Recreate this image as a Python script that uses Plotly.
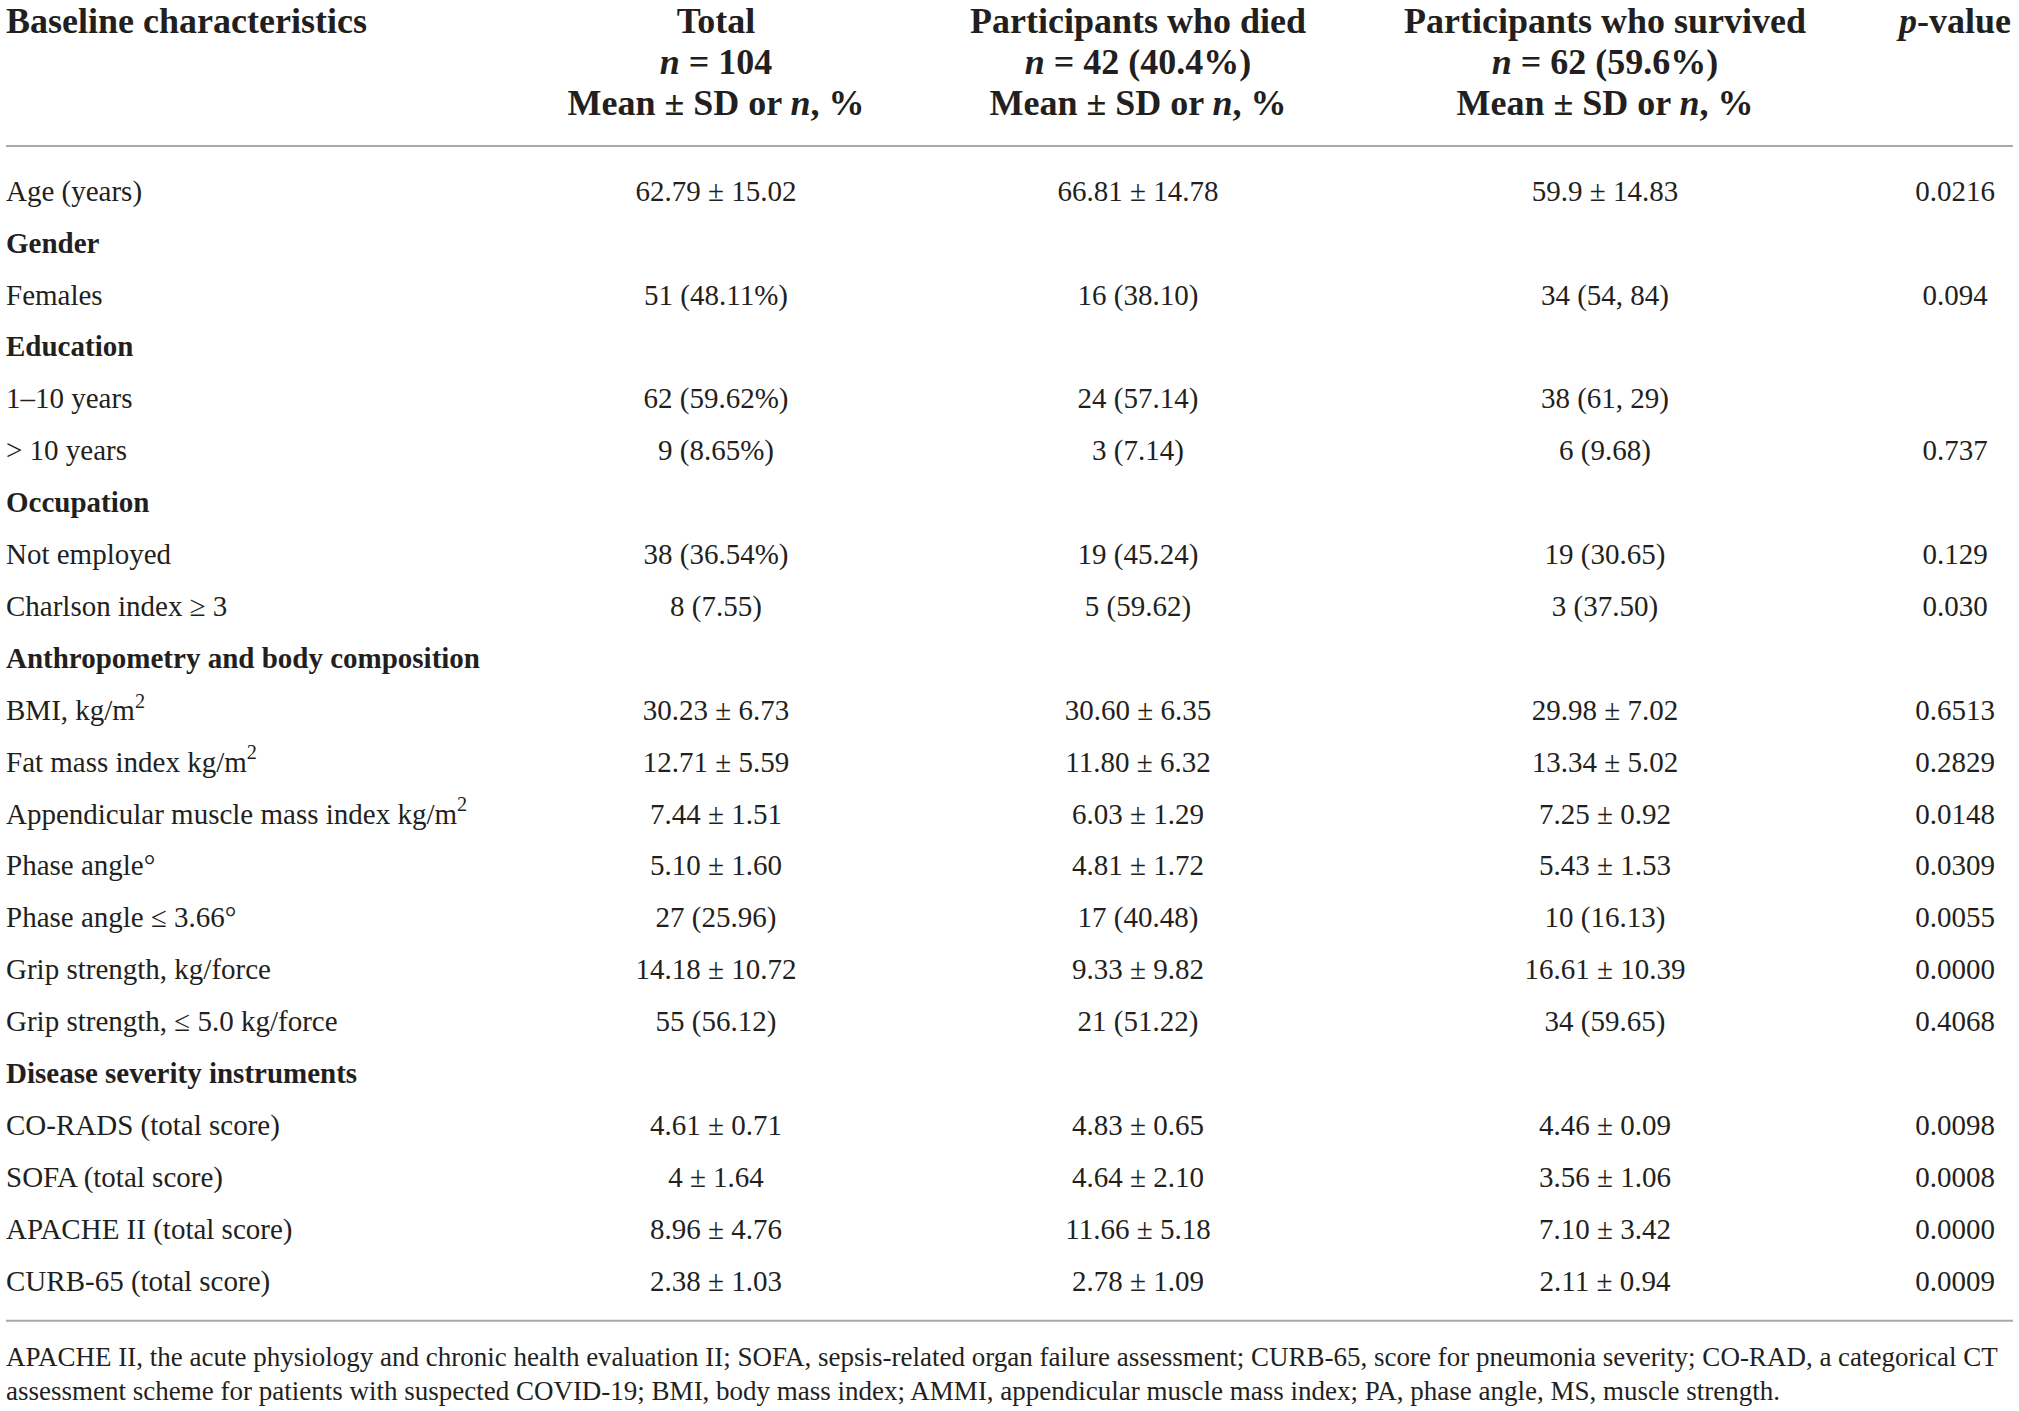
import plotly.graph_objects as go

# Table contents
labels = [
    "Age (years)", "Gender", "Females", "Education", "1–10 years", "&gt; 10 years",
    "Occupation", "Not employed", "Charlson index ≥ 3",
    "Anthropometry and body composition", "BMI, kg/m<sup>2</sup>",
    "Fat mass index kg/m<sup>2</sup>", "Appendicular muscle mass index kg/m<sup>2</sup>",
    "Phase angle°", "Phase angle ≤ 3.66°", "Grip strength, kg/force",
    "Grip strength, ≤ 5.0 kg/force", "Disease severity instruments",
    "CO-RADS (total score)", "SOFA (total score)", "APACHE II (total score)",
    "CURB-65 (total score)",
]
section_rows = ["Gender", "Education", "Occupation",
                "Anthropometry and body composition", "Disease severity instruments"]

total = ["62.79 ± 15.02", "", "51 (48.11%)", "", "62 (59.62%)", "9 (8.65%)", "",
         "38 (36.54%)", "8 (7.55)", "", "30.23 ± 6.73", "12.71 ± 5.59", "7.44 ± 1.51",
         "5.10 ± 1.60", "27 (25.96)", "14.18 ± 10.72", "55 (56.12)", "", "4.61 ± 0.71",
         "4 ± 1.64", "8.96 ± 4.76", "2.38 ± 1.03"]
died = ["66.81 ± 14.78", "", "16 (38.10)", "", "24 (57.14)", "3 (7.14)", "",
        "19 (45.24)", "5 (59.62)", "", "30.60 ± 6.35", "11.80 ± 6.32", "6.03 ± 1.29",
        "4.81 ± 1.72", "17 (40.48)", "9.33 ± 9.82", "21 (51.22)", "", "4.83 ± 0.65",
        "4.64 ± 2.10", "11.66 ± 5.18", "2.78 ± 1.09"]
survived = ["59.9 ± 14.83", "", "34 (54, 84)", "", "38 (61, 29)", "6 (9.68)", "",
            "19 (30.65)", "3 (37.50)", "", "29.98 ± 7.02", "13.34 ± 5.02", "7.25 ± 0.92",
            "5.43 ± 1.53", "10 (16.13)", "16.61 ± 10.39", "34 (59.65)", "", "4.46 ± 0.09",
            "3.56 ± 1.06", "7.10 ± 3.42", "2.11 ± 0.94"]
p_values = ["0.0216", "", "0.094", "", "", "0.737", "", "0.129", "0.030", "",
            "0.6513", "0.2829", "0.0148", "0.0309", "0.0055", "0.0000", "0.4068", "",
            "0.0098", "0.0008", "0.0000", "0.0009"]

head_label = ["Baseline characteristics"]
head_total = ["Total", "<i>n</i> = 104", "Mean ± SD or <i>n</i>, %"]
head_died = ["Participants who died", "<i>n</i> = 42 (40.4%)", "Mean ± SD or <i>n</i>, %"]
head_survived = ["Participants who survived", "<i>n</i> = 62 (59.6%)", "Mean ± SD or <i>n</i>, %"]
head_p = ["<i>p</i>-value"]

footnote = [
    "APACHE II, the acute physiology and chronic health evaluation II; SOFA, sepsis-related "
    "organ failure assessment; CURB-65, score for pneumonia severity; CO-RAD, a categorical CT",
    "assessment scheme for patients with suspected COVID-19; BMI, body mass index; AMMI, "
    "appendicular muscle mass index; PA, phase angle, MS, muscle strength.",
]

# layout (row units on y, pixels on x)
W, H = 2019, 1411
ROW0_PX, ROW_PX = 193.5, 51.9
header_rows = [-3.274, -2.484, -1.694]
footnote_rows = [22.47, 23.11]
top_rule, bottom_rule = -0.915, 21.72
col_x = {"label": 6, "total": 716, "died": 1138, "survived": 1605, "p": 1955}
INK = "#231f20"
FONT = "Liberation Serif"
BODY, HEAD, NOTE = 29, 36, 27

label_text = ["<b>%s</b>" % t if t in section_rows else t for t in labels]

fig = go.Figure()


def add_col(x, y, text, pos, size, bold=False):
    # skip empty cells
    pairs = [(r, t) for r, t in zip(y, text) if t]
    if bold:
        pairs = [(r, "<b>%s</b>" % t) for r, t in pairs]
    fig.add_trace(go.Scatter(
        x=[x] * len(pairs), y=[r for r, _ in pairs], text=[t for _, t in pairs],
        mode="text", textposition=pos,
        textfont=dict(family=FONT, size=size, color=INK),
        hoverinfo="skip", showlegend=False,
    ))


rows = list(range(len(labels)))

# body
add_col(col_x["label"], rows, label_text, "middle right", BODY)
add_col(col_x["total"], rows, total, "middle center", BODY)
add_col(col_x["died"], rows, died, "middle center", BODY)
add_col(col_x["survived"], rows, survived, "middle center", BODY)
add_col(col_x["p"], rows, p_values, "middle center", BODY)

# header
add_col(col_x["label"], header_rows, head_label, "middle right", HEAD, bold=True)
add_col(col_x["total"], header_rows, head_total, "middle center", HEAD, bold=True)
add_col(col_x["died"], header_rows, head_died, "middle center", HEAD, bold=True)
add_col(col_x["survived"], header_rows, head_survived, "middle center", HEAD, bold=True)
add_col(col_x["p"], header_rows, head_p, "middle center", HEAD, bold=True)

# footnote
add_col(col_x["label"], footnote_rows, footnote, "middle right", NOTE)

for yy in (top_rule, bottom_rule):
    fig.add_shape(type="line", x0=6, x1=2013, y0=yy, y1=yy,
                  line=dict(color="#a7a9ac", width=2))

fig.update_layout(
    width=W, height=H,
    margin=dict(l=0, r=0, t=0, b=0),
    paper_bgcolor="white", plot_bgcolor="white",
    xaxis=dict(range=[0, W], visible=False, fixedrange=True),
    yaxis=dict(range=[(H - ROW0_PX) / ROW_PX, -ROW0_PX / ROW_PX],
               visible=False, fixedrange=True),
)

fig.write_html("out.html", config={"displayModeBar": False},
               post_script="document.body.style.margin='0';")
